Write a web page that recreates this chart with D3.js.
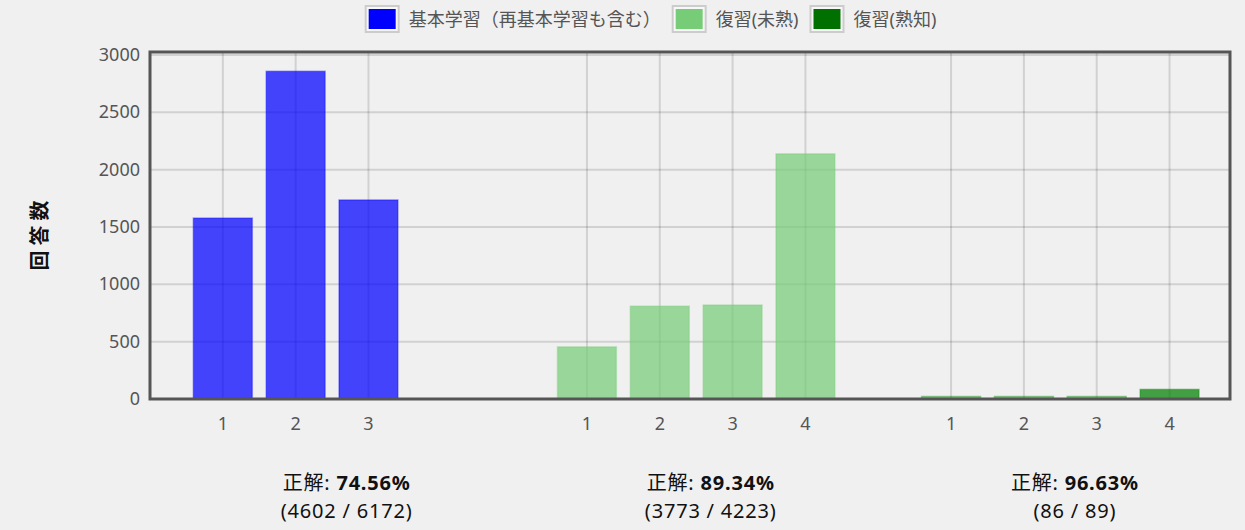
<html>
<script src='https://d3js.org/d3.v7.min.js'></script>
<style>
body { margin:0; background:#f0f0f0; }
svg { display:block; font-family:"Noto Sans","Noto Sans CJK JP",sans-serif; }
</style>
<body>
<svg width=1245 height=530></svg>
<script>

// legend / series names
const seriesNames = ["基本学習（再基本学習も含む）", "復習(未熟)", "復習(熟知)"];
const seriesColors = ["#0000ff", "#77cc77", "#007000"];
const barColors = ["#0000ff", "#77cc77", "#008000"];

// counts per answer number, one array per group
const basicCounts = [1578, 2858, 1736];
const immatureCounts = [455, 810, 820, 2138];
const masteredCounts = [1, 2, 2, 84];
const tickLabels = ["1", "2", "3", "4"];

// correct / total per group
const correctCounts = [4602, 3773, 86];
const totalCounts = [6172, 4223, 89];

const yTicks = [0, 500, 1000, 1500, 2000, 2500, 3000];

var svg = d3.select("svg");
var pLeft = 150, pRight = 1230, pTop = 52, pBottom = 399;

var x = d3.scaleLinear().domain([0, 14.83]).range([pLeft, pRight]);
var y = d3.scaleLinear().domain([0, 3000]).range([pBottom, 55]);

// flatten the groups into slots
var groups = [basicCounts, immatureCounts, masteredCounts];
var bars = [];
groups.forEach(function(g, gi) {
  g.forEach(function(v, i) {
    bars.push({ group: gi, slot: gi * 5 + i + 1, value: v, label: tickLabels[i] });
  });
});

// grid
svg.append("g").selectAll("line")
  .data(yTicks.slice(1)).enter().append("line")
  .attr("x1", pLeft).attr("x2", pRight)
  .attr("y1", d => y(d)).attr("y2", d => y(d))
  .attr("stroke", "rgba(0,0,0,0.13)").attr("stroke-width", 2);

svg.append("g").selectAll("line")
  .data(bars).enter().append("line")
  .attr("x1", d => x(d.slot)).attr("x2", d => x(d.slot))
  .attr("y1", pTop).attr("y2", pBottom)
  .attr("stroke", "rgba(0,0,0,0.13)").attr("stroke-width", 2);

// bars (tiny values still show a thin border line above the axis)
var bw = (x(1) - x(0)) * 0.81;
var minH = 2.5;
svg.append("g").selectAll("rect")
  .data(bars).enter().append("rect")
  .attr("x", d => x(d.slot) - bw / 2)
  .attr("y", d => Math.min(y(d.value), pBottom - minH))
  .attr("width", bw)
  .attr("height", d => Math.max(pBottom - y(d.value), minH))
  .attr("fill", d => barColors[d.group])
  .attr("fill-opacity", d => d.value < 10 ? 0.4 : 0.72)
  .attr("stroke", d => barColors[d.group])
  .attr("stroke-opacity", 0.35)
  .attr("stroke-width", 1.5);

// frame
svg.append("rect")
  .attr("x", pLeft).attr("y", pTop)
  .attr("width", pRight - pLeft).attr("height", pBottom - pTop)
  .attr("fill", "none").attr("stroke", "#555").attr("stroke-width", 3);

// y tick labels
svg.append("g").selectAll("text")
  .data(yTicks).enter().append("text")
  .attr("x", 140).attr("y", d => y(d) + 6)
  .attr("text-anchor", "end")
  .attr("font-size", "18px").attr("fill", "#555")
  .text(d => d);

// x tick labels
svg.append("g").selectAll("text")
  .data(bars).enter().append("text")
  .attr("x", d => x(d.slot)).attr("y", 430)
  .attr("text-anchor", "middle")
  .attr("font-size", "18px").attr("fill", "#555")
  .text(d => d.label);

// y axis title
svg.append("text")
  .attr("transform", "translate(47,233) rotate(-90)")
  .attr("text-anchor", "middle")
  .attr("font-size", "20px").attr("font-weight", "bold").attr("fill", "#111")
  .attr("letter-spacing", "5px")
  .text("回答数");

// legend
var lg = svg.append("g");
var lx = 0;
seriesNames.forEach(function(name, i) {
  var item = lg.append("g").attr("transform", "translate(" + lx + ",0)");
  item.append("rect").attr("x", 1).attr("y", 6).attr("width", 33).attr("height", 26)
    .attr("fill", "#f7f7f7").attr("stroke", "#ccc").attr("stroke-width", 2);
  item.append("rect").attr("x", 4).attr("y", 9).attr("width", 27).attr("height", 20)
    .attr("fill", seriesColors[i]);
  var t = item.append("text").attr("x", 44).attr("y", 26)
    .attr("font-size", "18px").attr("fill", "#555").text(name);
  lx += 44 + t.node().getComputedTextLength() + 11;
});
lg.attr("transform", "translate(" + (656 - lx / 2) + ",0)");

// summary under each group
var summary = svg.append("g").selectAll("g")
  .data(correctCounts).enter().append("g");

var sline = summary.append("text")
  .attr("x", (d, i) => x(i * 5 + 2.7)).attr("y", 490)
  .attr("text-anchor", "middle").attr("font-size", "20px").attr("fill", "#111")
  .attr("letter-spacing", "0.8px");
sline.append("tspan").text("正解: ");
sline.append("tspan").attr("font-weight", "bold")
  .text((d, i) => (d / totalCounts[i] * 100).toFixed(2) + "%");

summary.append("text")
  .attr("x", (d, i) => x(i * 5 + 2.7)).attr("y", 518)
  .attr("text-anchor", "middle").attr("font-size", "20px").attr("fill", "#111")
  .attr("letter-spacing", "0.8px")
  .text((d, i) => "(" + d + " / " + totalCounts[i] + ")");

</script>
</body>
</html>
